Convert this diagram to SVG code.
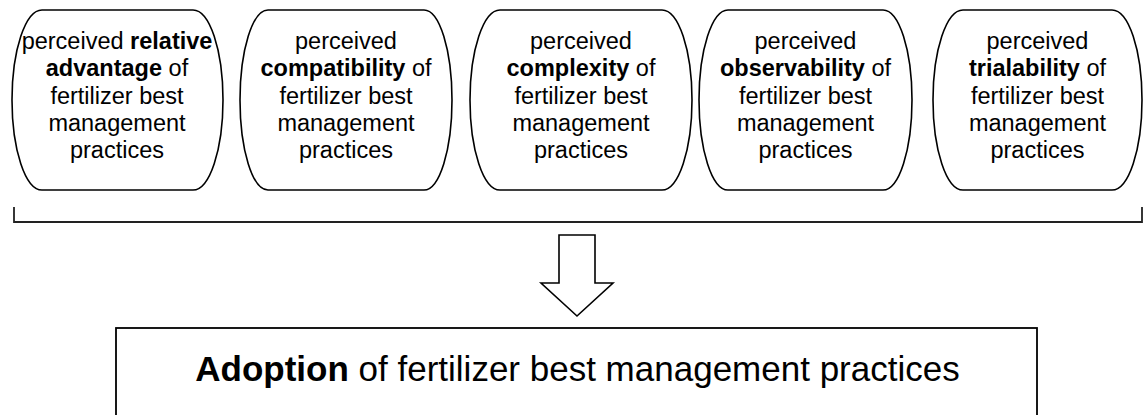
<svg xmlns="http://www.w3.org/2000/svg" width="1144" height="415" viewBox="0 0 1144 415">
<style>
.node{fill:#fff;stroke:#000;stroke-width:1.6}
.t{font-family:"Liberation Sans",Arial,sans-serif;font-size:23.5px;fill:#000;text-anchor:middle}
.b{font-weight:bold}
.conn{fill:none;stroke:#222;stroke-width:1.8}
.arrow{fill:#fff;stroke:#000;stroke-width:1.6;stroke-linejoin:miter}
.big{font-family:"Liberation Sans",Arial,sans-serif;font-size:35px;fill:#000;text-anchor:middle}
</style>
<rect width="1144" height="415" fill="#fff"/>
<g id="node1">
<path class="node" d="M42,10 H193 A30,90 0 0 1 193,190 H42 A30,90 0 0 1 42,10 Z"/>
<text class="t" x="117" y="49">perceived <tspan class="b">relative</tspan></text>
<text class="t" x="117" y="76.3"><tspan class="b">advantage</tspan> of</text>
<text class="t" x="117" y="103.6">fertilizer best</text>
<text class="t" x="117" y="130.9">management</text>
<text class="t" x="117" y="158.2">practices</text>
</g>
<g id="node2">
<path class="node" d="M268,10 H424 A28,90 0 0 1 424,190 H268 A28,90 0 0 1 268,10 Z"/>
<text class="t" x="346" y="49">perceived</text>
<text class="t" x="346" y="76.3"><tspan class="b">compatibility</tspan> of</text>
<text class="t" x="346" y="103.6">fertilizer best</text>
<text class="t" x="346" y="130.9">management</text>
<text class="t" x="346" y="158.2">practices</text>
</g>
<g id="node3">
<path class="node" d="M500,10 H662 A30,90 0 0 1 662,190 H500 A30,90 0 0 1 500,10 Z"/>
<text class="t" x="581" y="49">perceived</text>
<text class="t" x="581" y="76.3"><tspan class="b">complexity</tspan> of</text>
<text class="t" x="581" y="103.6">fertilizer best</text>
<text class="t" x="581" y="130.9">management</text>
<text class="t" x="581" y="158.2">practices</text>
</g>
<g id="node4">
<path class="node" d="M728,10 H883 A29,90 0 0 1 883,190 H728 A29,90 0 0 1 728,10 Z"/>
<text class="t" x="805.5" y="49">perceived</text>
<text class="t" x="805.5" y="76.3"><tspan class="b">observability</tspan> of</text>
<text class="t" x="805.5" y="103.6">fertilizer best</text>
<text class="t" x="805.5" y="130.9">management</text>
<text class="t" x="805.5" y="158.2">practices</text>
</g>
<g id="node5">
<path class="node" d="M963,10 H1112 A30,90 0 0 1 1112,190 H963 A30,90 0 0 1 963,10 Z"/>
<text class="t" x="1037.5" y="49">perceived</text>
<text class="t" x="1037.5" y="76.3"><tspan class="b">trialability</tspan> of</text>
<text class="t" x="1037.5" y="103.6">fertilizer best</text>
<text class="t" x="1037.5" y="130.9">management</text>
<text class="t" x="1037.5" y="158.2">practices</text>
</g>
<g id="connectors">
<path class="conn" d="M14,207 V222 H1142 V207"/>
<polygon class="arrow" points="559,235 595,235 595,283 613,283 577,316 541,283 559,283"/>
</g>
<g id="adoption">
<rect x="116" y="328" width="921" height="100" fill="#fff" stroke="#000" stroke-width="1.8"/>
<text class="big" x="577.5" y="380.5"><tspan font-weight="bold">Adoption</tspan> of fertilizer best management practices</text>
</g>
</svg>
